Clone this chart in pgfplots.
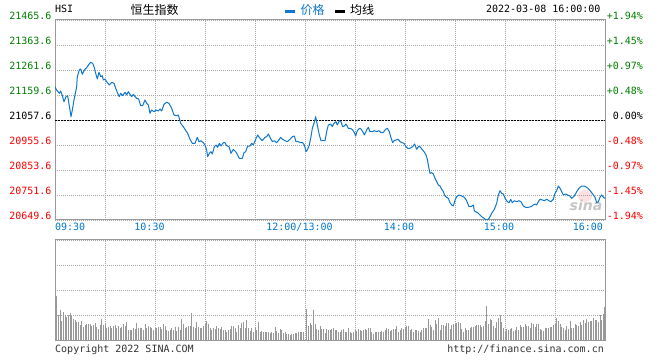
\documentclass[border=0pt]{standalone}
\usepackage{pgfplots}
\pgfplotsset{compat=1.18}
\usepackage{fontspec}
\setmainfont{DejaVu Sans}
\setsansfont{DejaVu Sans}
\setmonofont{DejaVu Sans Mono}
\newfontfamily\cjk{Noto Sans CJK SC}
\definecolor{pblue}{RGB}{17,119,204}
\definecolor{lblue}{RGB}{0,119,204}
\definecolor{tgreen}{RGB}{0,128,0}
\definecolor{tred}{RGB}{255,0,0}
\definecolor{bord}{RGB}{153,153,153}
\definecolor{gridc}{RGB}{165,165,165}
\definecolor{volc}{RGB}{153,153,153}
\definecolor{txtg}{RGB}{51,51,51}
\newcommand\mono{\ttfamily\fontsize{10bp}{10bp}\selectfont}
\newcommand\cjkf{\cjk\fontsize{12bp}{12bp}\selectfont}
\newcommand\rl[2]{\makebox[36bp][r]{\textcolor{#1}{#2}}}
\begin{document}
\begin{tikzpicture}
\useasboundingbox (0,0) rectangle (660bp,360bp);
\fill[white] (0,0) rectangle (660bp,360bp);
\pgfplotsset{
 sinabox/.style={scale only axis, width=550bp, xmin=0, xmax=330, xtick={0,30,...,330},
  grid=major, major grid style={gridc, line width=0.8bp, dash pattern=on 1bp off 1bp},
  axis line style={bord, line width=1bp}, major tick length=0pt, tick style={draw=none},
  scaled x ticks=false, scaled y ticks=false,
  tick label style={font=\mono}},
}
% watermark
\fill[red!12] (585bp,164bp) ellipse (7bp and 6bp);
\node[inner sep=0, font=\sffamily\bfseries\itshape\fontsize{14bp}{14bp}\selectfont, text=gray!45] at (586bp,155bp) {sina};

\begin{axis}[sinabox, at={(55bp,140bp)}, anchor=south west, height=200bp,
 ymin=20649.6, ymax=21465.6,
 ytick={20649.6,20751.6,20853.6,20955.6,21057.6,21159.6,21261.6,21363.6,21465.6},
 yticklabels={\textcolor{tred}{20649.6},\textcolor{tred}{20751.6},\textcolor{tred}{20853.6},\textcolor{tred}{20955.6},\textcolor{black}{21057.6},\textcolor{tgreen}{21159.6},\textcolor{tgreen}{21261.6},\textcolor{tgreen}{21363.6},\textcolor{tgreen}{21465.6}},
 yticklabel style={anchor=base east},
 xticklabels={{\makebox[0pt][l]{09:30}},{},{\makebox[0pt]{10:30\hspace{11bp}}},{},{},{\makebox[0pt]{12:00/13:00\hspace{11bp}}},{},{\makebox[0pt]{14:00\hspace{12bp}}},{},{\makebox[0pt]{15:00\hspace{12bp}}},{},{\makebox[0pt][r]{16:00\hspace{2bp}}}},
 xticklabel style={anchor=base, yshift=-10.7bp, text=lblue},
]
\addplot[black, line width=0.8bp, dash pattern=on 2bp off 1bp] coordinates {(0,21057.6) (330,21057.6)};
\addplot[pblue, line width=1bp, line join=round] coordinates {
(0,21193.5)(1.0,21180.0)(2.6,21166.5)(3.4,21175.9)(4.6,21152.7)(5.4,21132.3)(6.6,21152.7)(7.6,21156.7)(8.0,21139.2)(9.0,21098.4)(9.6,21071.1)(10.6,21105.3)(11.4,21139.2)(12,21159.6)(13,21193.5)(13.4,21234.3)(14.6,21261.6)(15.4,21265.7)(16.4,21244.1)(17.6,21261.6)(19.0,21271.0)(20.4,21284.9)(21.4,21293.0)(22.6,21288.9)(23.4,21275.1)(24.4,21248.1)(25.4,21224.9)(26.4,21252.2)(27.4,21234.3)(28.4,21238.3)(29.0,21220.8)(30,21224.9)(31.0,21213.9)(32.6,21200.4)(34.0,21211.4)(35.4,21207.3)(36.4,21186.9)(37.6,21166.5)(38.6,21152.7)(39.4,21166.5)(40.6,21156.7)(42,21170.6)(43,21159.6)(44,21173.1)(45,21162.5)(46,21152.7)(47,21162.5)(48,21152.7)(49,21146.1)(50.2,21143.3)(51.4,21115.9)(52.6,21115.9)(54,21139.2)(55,21125.7)(56,21118.8)(57,21084.9)(58,21098.4)(59.4,21091.5)(60.6,21098.4)(62,21094.3)(63,21102.5)(64,21094.3)(65.4,21121.7)(67,21129.8)(68.4,21125.7)(70,21105.3)(71.4,21078.0)(72.6,21075.1)(74,21078.0)(75.4,21044.1)(77,21030.3)(78.6,21012.7)(79.6,21003.3)(81,20978.9)(82.4,20962.5)(84,20962.5)(85.4,20987.0)(86.4,20969.1)(87.6,20973.1)(89,20965.0)(90,20955.6)(91,20935.2)(91.6,20907.9)(92.6,20921.7)(93.6,20928.3)(94.4,20918.9)(95.6,20948.7)(96.6,20955.6)(97.6,20946.2)(98.6,20962.5)(99.6,20951.5)(101,20965.0)(102,20965.0)(103,20952.7)(104.4,20948.7)(105.6,20921.7)(107,20938.1)(108.4,20928.3)(109.6,20914.8)(110.6,20901.3)(112.4,20901.3)(113.4,20924.2)(114.4,20928.3)(115.6,20951.5)(117,20951.5)(118,20962.5)(119,20955.6)(120.4,20978.9)(121.6,20996.4)(123,20982.9)(124.4,20973.1)(126,20987.0)(127,20989.5)(128,21000.5)(129,20987.0)(130.4,20969.1)(131.6,20973.1)(133,20965.0)(134,20973.1)(135.4,20987.0)(136.4,20978.9)(138,20973.1)(139.4,20969.1)(141,20978.9)(142.4,20989.5)(143.6,20992.3)(144.6,20969.1)(146,20969.1)(147.4,20965.0)(148.4,20966.6)(149.6,20955.6)(150.6,20928.3)(151.6,20938.1)(152.6,20955.6)(153.6,20989.5)(154.4,21023.7)(155.4,21044.1)(156.4,21071.1)(157.6,21030.3)(158.6,20996.4)(159.6,20973.1)(162,20973.1)(163,21009.9)(164,21037.2)(165.4,21041.3)(166.4,21030.3)(167.4,21044.1)(168.6,21050.7)(169.4,21037.2)(170.6,21054.7)(171.6,21050.7)(172.6,21030.3)(173.6,21033.1)(174.6,21041.3)(176,21023.7)(177.4,21023.7)(178.6,21016.8)(179.6,21005.8)(180.4,20992.3)(181.4,21013.9)(182.6,21023.7)(183.6,21020.9)(184.6,21009.9)(185.6,20996.4)(187,21016.8)(188,21027.8)(189,21009.9)(190.4,21009.9)(191.6,21013.9)(193,21009.9)(194.4,21013.9)(195.6,21005.8)(197,21007.4)(198.4,21019.7)(199.4,21023.7)(200.6,21009.9)(201.4,20989.5)(202.6,20965.0)(203.4,20973.1)(204.6,20976.0)(206,20978.9)(207,20969.1)(208.4,20965.0)(209.4,20962.5)(210.6,20948.7)(211.6,20942.1)(213,20942.1)(214.6,20948.7)(215.8,20959.7)(217,20938.1)(218,20948.7)(219,20948.7)(220.2,20938.1)(221.4,20928.3)(222.6,20914.8)(223.4,20897.3)(224.2,20867.1)(225,20840.1)(226,20842.6)(227,20837.3)(228,20819.7)(229,20805.9)(230,20792.4)(231,20788.3)(232,20774.9)(233,20765.1)(234,20747.5)(235,20742.2)(236,20738.1)(237,20720.2)(238,20710.8)(239,20706.7)(240,20730)(241,20744.7)(242.4,20751.6)(244,20747.5)(245.6,20742.2)(247,20728.3)(248.4,20703.9)(249.6,20703.9)(251,20710.8)(251.6,20687.5)(252.4,20683.5)(253.6,20679.4)(254.4,20674.1)(256,20663.1)(257.6,20656.5)(258.6,20649.6)(260,20652.5)(261,20663.1)(262,20676.9)(263.6,20693.3)(265,20717.7)(266,20751.6)(267,20769.1)(268,20758.5)(269,20755.7)(270,20738.1)(271.4,20724.3)(272.4,20720.2)(273.4,20734.1)(274.4,20720.2)(275.6,20728.3)(277,20724.3)(278.4,20728.3)(279.6,20724.3)(281,20706.7)(282.4,20701.4)(284,20701.4)(285.6,20703.9)(287,20710.8)(288,20714.9)(289,20710.8)(290,20724.3)(291,20734.1)(292.4,20731.2)(293.6,20728.3)(295,20734.1)(296.4,20728.3)(297.6,20724.3)(299,20734.1)(300,20758.5)(301,20769.1)(302,20788.3)(303,20778.9)(304,20765.1)(305,20751.6)(306.4,20755.7)(307.6,20751.6)(309,20747.5)(310,20738.1)(311.6,20747.5)(313,20765.1)(314.4,20778.9)(316,20788.3)(317.6,20788.3)(319,20783.0)(320.4,20774.9)(321.6,20765.1)(323,20751.6)(324,20742.2)(325,20720.2)(326,20724.3)(327,20742.2)(328,20751.6)(329.6,20738.1)(330,20740)};
\end{axis}

\begin{axis}[scale only axis, width=550bp, height=200bp, at={(55bp,140bp)}, anchor=south west,
 xmin=0, xmax=330, ymin=-1.9376, ymax=1.9376, axis y line*=right, axis x line=none,
 axis line style={draw=none}, major tick length=0pt, tick style={draw=none},
 scaled y ticks=false,
 ytick={-1.9376,-1.4532,-0.9688,-0.4844,0,0.4844,0.9688,1.4532,1.9376},
 yticklabels={\rl{tred}{-1.94\%},\rl{tred}{-1.45\%},\rl{tred}{-0.97\%},\rl{tred}{-0.48\%},\rl{black}{0.00\%},\rl{tgreen}{+0.48\%},\rl{tgreen}{+0.97\%},\rl{tgreen}{+1.45\%},\rl{tgreen}{+1.94\%}},
 yticklabel style={anchor=base west, xshift=-1.6bp, font=\mono}]
\addplot[draw=none] coordinates {(0,0)};
\end{axis}

\begin{axis}[sinabox, at={(55bp,20bp)}, anchor=south west, height=100bp,
 ymin=0, ymax=100, ytick={0,25,50,75,100}, xticklabels={}, yticklabels={}]
\addplot[ycomb, volc, line width=1bp] coordinates {
(1,44)(2,25)(3,30)(4,19)(5,27.7)(6,25)(7,23)(8,25)(9,26.7)(10,24.3)(11,21)(12,20)(13,18.3)(14,17.7)(15,15)(16,19)(17,13.3)(18,15)(19,15.7)(20,16)(21,16)(22,14.3)(23,15)(24,16.7)(25,13.3)(26,11)(27,15)(28,21)(29,15)(30,15.7)(31,11.7)(32,13.3)(33,14.3)(34,12.3)(35,14.3)(36,15)(37,12.3)(38,14.3)(39,12.3)(40,13.3)(41,15.7)(42,14.3)(43,17.7)(44,10)(45,10)(46,10)(47,12.3)(48,11)(49,16.7)(50,11.7)(51,12.3)(52,11.7)(53,10)(54,15.7)(55,12.3)(56,14.3)(57,13.3)(58,11.7)(59,10)(60,12.3)(61,12.3)(62,13.3)(63,13.3)(64,11)(65,15.7)(66,14.3)(67,10)(68,9)(69,10)(70,11.7)(71,10)(72,13.3)(73,9)(74,13.3)(75,10)(76,21)(77,15.7)(78,12.3)(79,13.3)(80,14.3)(81,14.3)(82,26.7)(83,13.3)(84,12.3)(85,17.7)(86,13.3)(87,11.7)(88,12.3)(89,14.3)(90,15.7)(91,19)(92,15.7)(93,12.3)(94,10)(95,11.7)(96,11)(97,14.3)(98,12.3)(99,11)(100,13.3)(101,10)(102,10)(103,8.3)(104,10)(105,11)(106,14.3)(107,14.3)(108,11.7)(109,8.3)(110,15)(111,12.3)(112,16.7)(113,17.7)(114,11.7)(115,20)(116,12.3)(117,9)(118,11.7)(119,7.7)(120,13.3)(121,10)(122,17.7)(123,7.7)(124,9)(125,7.7)(126,8.3)(127,7.7)(128,8.3)(129,6.7)(130,7.7)(131,6.7)(132,13)(133,9)(134,6.7)(135,11)(136,10)(137,6.7)(138,7.7)(139,5.7)(140,5.7)(141,5)(142,5.7)(143,5.7)(144,6.7)(145,6.7)(146,7.7)(147,8.3)(148,8.3)(149,8.3)
(151,31)(152,14.3)(153,16.7)(154,15)(155,30)(156,15.7)(157,11)(158,10)(159,14.3)(160,11)(161,11)(162,6.7)(163,11)(164,10)
(165,10)(166,11)(167,12.3)(168,10)(169,10)(170,8.3)(171,8.3)(172,10)(173,11)(174,8.3)(175,7.7)
(176,12.3)(177,8.3)(178,7.3)(179,7.7)(180,10)(181,9)(182,11)(183,10)(184,9)(185,10)
(186,11)(187,10)(188,12.3)(189,12.3)(190,7.7)(191,5.7)(192,7.7)(193,7.7)(194,7.7)(195,8.3)
(196,9)(197,8.3)(198,10)(199,12.3)(200,11)(201,9)(202,10)(203,11)(204,11)(205,14.3)
(206,8.3)(207,10)(208,12.3)(209,11)(210,13.3)(211,14.3)(212,14.3)(213,10)(214,11)(215,8.3)
(216,10)(217,10)(218,9)(219,8.3)(220,10)(221,12.3)(222,12.3)(223,12.3)(224,21)(225,15)
(226,13.3)(227,10)(228,20)(229,15.7)(230,22.3)(231,10)(232,15)(233,15)(234,14.3)(235,16.7)
(236,16.7)(237,11)(238,15)(239,15.7)(240,15.7)(241,16.7)(242,17.7)(243,16.7)(244,11)(245,8.3)
(246,12.3)(247,10)(248,10)(249,12.3)(250,13.3)(251,13.3)(252,14.3)(253,15)(254,15)(255,15)
(256,13.3)(257,14.3)(258,19)(259,34.3)(260,15.7)(261,21)(262,20)(263,14.3)(264,12.3)(265,17.7)
(266,22.3)(267,25)(268,18.3)(269,12.3)(270,7.7)(271,11)(272,10)(273,11)(274,12.3)(275,9)
(276,10)(277,13.3)(278,10)(279,15)(280,13.3)(281,13.3)(282,15.7)(283,14.3)(284,14.3)(285,12.3)
(286,16.7)(287,15.7)(288,13.3)(289,15.7)(290,15.7)(291,11)(292,10)(293,9)(294,12.3)(295,12.3)
(296,11.7)(297,13.3)(298,13.3)(299,15)(300,15.7)(301,22.3)(302,19)(303,15.7)(304,13.3)(305,11.7)
(306,10)(307,14.3)(308,11)(309,19)(310,12.3)(311,11.7)(312,15.7)(313,15)(314,14.3)(315,17.7)
(316,15)(317,20)(318,16.7)(319,21)(320,17.7)(321,19)(322,19)(323,22.3)(324,20)(325,20)
(326,17.7)(327,25)(328,20)(329,26)(329.6,33.3)};
\end{axis}

% header and footer
\node[anchor=base west, inner sep=0, font=\mono] at (55bp,347.7bp) {HSI};
\node[inner sep=0, font=\cjkf] at (154.7bp,350.5bp) {恒生指数};
\draw[pblue, line width=2.7bp] (285bp,348.7bp) -- (295bp,348.7bp);
\node[inner sep=0, font=\cjkf, text=pblue] at (312.5bp,350.5bp) {价格};
\draw[black, line width=2.7bp] (335bp,348.7bp) -- (345bp,348.7bp);
\node[inner sep=0, font=\cjkf] at (362bp,350.5bp) {均线};
\node[anchor=base east, inner sep=0, font=\mono] at (600.7bp,347.3bp) {2022-03-08 16:00:00};
\node[anchor=base west, inner sep=0, font=\mono, text=txtg] at (55bp,7.5bp) {Copyright 2022 SINA.COM};
\node[anchor=base east, inner sep=0, font=\mono, text=txtg] at (604bp,7.5bp) {http://finance.sina.com.cn};
\end{tikzpicture}
\end{document}
